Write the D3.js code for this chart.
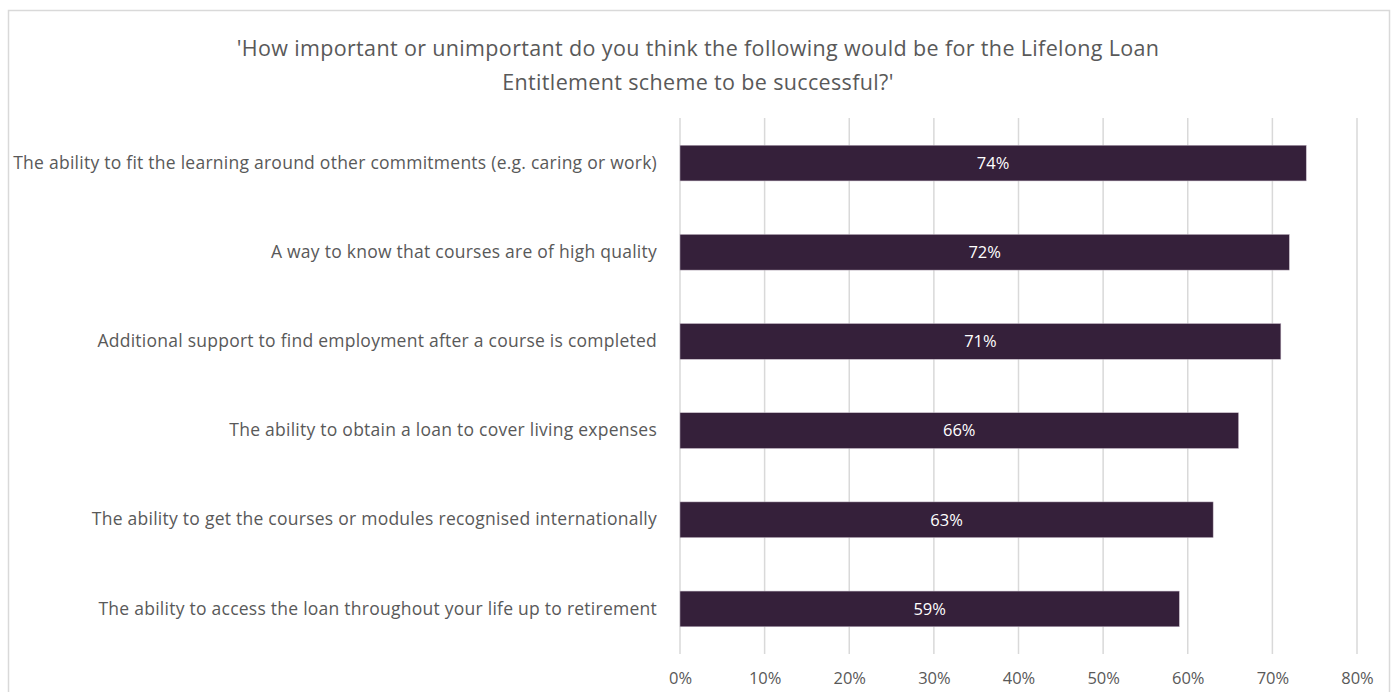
<!DOCTYPE html>
<html>
<head>
<meta charset="utf-8">
<script src="https://cdn.jsdelivr.net/npm/d3@7"></script>
<style>
  html, body { margin: 0; padding: 0; background: #ffffff; }
  svg { display: block; }
  text { font-family: "Open Sans", Lato, sans-serif; }
</style>
</head>
<body>
<svg id="chart" width="1397" height="692"></svg>
<script>
const categories = [
  "The ability to fit the learning around other commitments (e.g. caring or work)",
  "A way to know that courses are of high quality",
  "Additional support to find employment after a course is completed",
  "The ability to obtain a loan to cover living expenses",
  "The ability to get the courses or modules recognised internationally",
  "The ability to access the loan throughout your life up to retirement"
];
const values = [74, 72, 71, 66, 63, 59];
const tickValues = [0, 10, 20, 30, 40, 50, 60, 70, 80];
const titleLines = [
  "'How important or unimportant do you think the following would be for the Lifelong Loan",
  "Entitlement scheme to be successful?'"
];

const svg = d3.select("#chart");
const FONT = "'Open Sans', Lato, sans-serif";

// outer frame
svg.append("rect")
  .attr("x", 8.5).attr("y", 10.5)
  .attr("width", 1381).attr("height", 700)
  .attr("fill", "#fff").attr("stroke", "#d9d9d9").attr("stroke-width", 1.5);

// title
svg.append("g").selectAll("text").data(titleLines).join("text")
  .attr("x", 698).attr("y", (d, i) => 56 + i * 34)
  .attr("text-anchor", "middle")
  .attr("fill", "#595959")
  .attr("font-size", 21.5)
  .attr("letter-spacing", 0.35)
  .text(d => d);

const x = d3.scaleLinear().domain([0, 80]).range([680, 1357]);
const y = d3.scaleBand().domain(categories).range([118.5, 653.5]).paddingInner(0.6).paddingOuter(0.3);

// vertical gridlines
svg.append("g").selectAll("line").data(tickValues).join("line")
  .attr("x1", d => x(d)).attr("x2", d => x(d))
  .attr("y1", 118).attr("y2", 654)
  .attr("stroke", "#d9d9d9").attr("stroke-width", 1.5);

// x axis labels
const xAxis = d3.axisBottom(x).tickValues(tickValues).tickFormat(d => d + "%").tickSize(0).tickPadding(0);
const gx = svg.append("g").attr("transform", "translate(0,672)").call(xAxis);
gx.select(".domain").remove();
gx.selectAll("text").attr("font-size", 16.5).attr("fill", "#595959")
  .attr("font-family", FONT);

// category labels
const yAxis = d3.axisLeft(y).tickSize(0).tickPadding(0);
const gy = svg.append("g").attr("transform", "translate(657,0)").call(yAxis);
gy.select(".domain").remove();
gy.selectAll("text").attr("font-size", 17.5).attr("letter-spacing", 0.25).attr("fill", "#595959")
  .attr("font-family", FONT);

// bars
svg.append("g").selectAll("rect").data(values).join("rect")
  .attr("x", x(0))
  .attr("y", (d, i) => y(categories[i]))
  .attr("width", d => x(d) - x(0))
  .attr("height", y.bandwidth())
  .attr("fill", "#35203a")
  .attr("stroke", "#bfb3c2").attr("stroke-width", 0.5);

// value labels
svg.append("g").selectAll("text").data(values).join("text")
  .attr("x", d => (x(0) + x(d)) / 2)
  .attr("y", (d, i) => y(categories[i]) + y.bandwidth() / 2)
  .attr("dy", "0.35em")
  .attr("text-anchor", "middle")
  .attr("fill", "#ffffff")
  .attr("font-size", 16.5)
  .text(d => d + "%");
</script>
</body>
</html>
